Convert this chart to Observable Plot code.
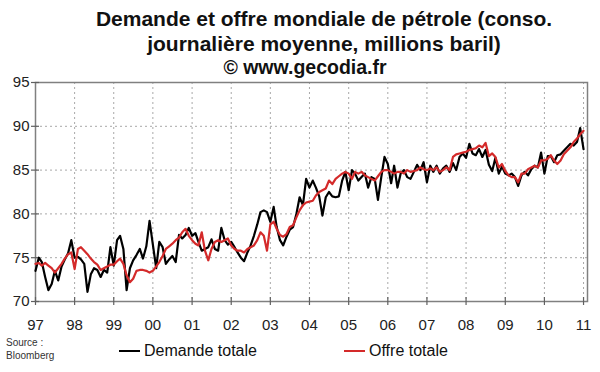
<!DOCTYPE html>
<html><head><meta charset="utf-8">
<script src="https://cdn.jsdelivr.net/npm/d3@7"></script>
<script src="https://cdn.jsdelivr.net/npm/@observablehq/plot@0.6"></script>
<style>
body{margin:0;background:#fff;font-family:"Liberation Sans",Arial,sans-serif;}
#wrap{position:relative;width:600px;height:372px;overflow:hidden;background:#fff;}
.t{position:absolute;left:48px;width:552px;text-align:center;font-weight:bold;color:#111;white-space:nowrap;line-height:24px;}
#chart{position:absolute;left:0;top:62px;}
#chart svg{overflow:visible;}
.src{position:absolute;left:6px;top:336px;font-size:10px;line-height:13px;color:#333;}
.sw{position:absolute;height:2px;}
.lt{position:absolute;font-size:16px;color:#111;white-space:nowrap;line-height:18px;}
</style></head>
<body>
<div id="wrap">
  <div class="t" style="top:7px;font-size:21px;">Demande et offre mondiale de pétrole (conso.</div>
  <div class="t" style="top:32px;font-size:21px;">journalière moyenne, millions baril)</div>
  <div class="t" style="top:55px;left:10px;width:590px;font-size:19.5px;">© www.gecodia.fr</div>
  <div id="chart"></div>
  <div class="src">Source :<br>Bloomberg</div>
  <div class="sw" style="left:119px;top:350px;width:21px;background:#000;"></div>
  <div class="lt" style="left:144px;top:342px;">Demande totale</div>
  <div class="sw" style="left:344px;top:350px;width:21px;background:#d42a2a;"></div>
  <div class="lt" style="left:369px;top:342px;">Offre totale</div>
</div>
<script>
// Monthly values, Jan 1997 .. Jan 2011 (millions of barrels per day)
const demande = [
  73.5, 75.0, 74.5, 72.8, 71.3, 72.0, 73.5, 72.4, 74.0, 74.8, 75.5, 77.0, // 1997
  75.0, 75.1, 74.8, 74.3, 71.1, 73.1, 73.8, 73.6, 72.8, 73.6, 73.3, 76.2, // 1998
  74.1, 77.0, 77.5, 76.0, 71.3, 73.8, 74.7, 75.3, 76.0, 74.9, 76.3, 79.2, // 1999
  76.5, 73.8, 76.8, 76.2, 74.3, 74.8, 75.2, 74.5, 77.6, 77.2, 77.6, 78.4, // 2000
  77.5, 77.8, 76.8, 75.8, 76.0, 76.2, 77.1, 76.0, 75.8, 78.4, 77.0, 76.5, // 2001
  76.8, 76.2, 75.6, 75.0, 74.6, 75.6, 76.4, 77.5, 78.8, 80.2, 80.4, 80.2, // 2002
  79.1, 80.8, 78.5, 77.0, 76.4, 77.4, 78.2, 78.5, 80.0, 81.9, 81.0, 84.0, // 2003
  83.0, 83.8, 83.0, 82.0, 79.8, 81.9, 82.5, 82.0, 81.9, 82.0, 83.8, 84.8, // 2004
  82.7, 85.0, 84.6, 83.8, 84.2, 84.6, 83.0, 84.2, 84.0, 81.6, 84.2, 86.5, // 2005
  85.7, 83.5, 85.5, 83.0, 84.6, 85.0, 84.2, 84.0, 84.8, 85.6, 85.0, 85.9, // 2006
  83.6, 85.5, 84.8, 85.5, 84.6, 85.2, 85.5, 84.8, 85.8, 85.0, 86.5, 86.9, // 2007
  86.4, 88.0, 86.9, 86.7, 87.4, 86.5, 87.3, 85.6, 84.9, 86.4, 84.6, 85.4, // 2008
  84.6, 84.4, 84.6, 84.2, 83.2, 84.4, 84.8, 84.4, 85.1, 85.5, 85.3, 87.0, // 2009
  84.6, 86.6, 86.6, 85.9, 86.7, 86.8, 87.2, 87.6, 88.0, 87.8, 88.2, 89.8, // 2010
  87.4                                                                     // 2011
];
const offre = [
  74.3, 74.4, 74.1, 74.4, 74.1, 73.8, 73.3, 73.8, 74.3, 74.9, 75.4, 75.6, // 1997
  73.7, 76.0, 76.2, 75.8, 75.4, 74.9, 74.5, 74.2, 73.6, 73.8, 74.0, 74.2, // 1998
  74.2, 74.6, 74.9, 74.3, 73.0, 72.2, 72.6, 73.5, 73.6, 73.6, 73.5, 73.3, // 1999
  73.5, 74.0, 74.5, 75.2, 76.0, 76.3, 76.6, 77.0, 77.3, 77.9, 78.3, 77.5, // 2000
  77.0, 76.6, 76.4, 77.9, 75.8, 74.7, 76.0, 76.8, 77.0, 76.8, 77.0, 77.2, // 2001
  76.4, 76.0, 75.8, 75.8, 75.6, 76.0, 76.2, 76.4, 77.0, 77.9, 77.5, 75.8, // 2002
  78.8, 79.1, 78.3, 77.6, 77.4, 77.7, 78.5, 78.7, 79.6, 80.4, 81.0, 81.3, // 2003
  81.4, 81.5, 82.1, 82.5, 82.7, 82.9, 83.8, 83.4, 84.0, 84.3, 84.6, 84.8, // 2004
  84.6, 84.0, 84.8, 84.6, 84.8, 84.4, 84.2, 84.0, 83.8, 84.3, 84.8, 85.0, // 2005
  85.0, 84.8, 84.6, 84.8, 84.8, 84.6, 85.0, 84.8, 84.9, 85.0, 85.3, 85.1, // 2006
  85.0, 85.2, 85.0, 85.3, 84.8, 85.0, 85.3, 85.0, 86.5, 86.8, 86.9, 87.0, // 2007
  87.1, 87.3, 87.4, 87.5, 87.8, 87.6, 88.1, 86.6, 86.9, 86.5, 85.3, 85.7, // 2008
  84.9, 84.4, 84.2, 84.2, 83.6, 84.6, 84.6, 85.1, 85.3, 85.5, 85.3, 86.1, // 2009
  86.1, 86.3, 86.7, 86.1, 85.7, 86.1, 86.8, 87.2, 87.6, 88.2, 88.6, 89.1, // 2010
  89.5                                                                     // 2011
];
const startYear = 1997;
const tickYears = [1997,1998,1999,2000,2001,2002,2003,2004,2005,2006,2007,2008,2009,2010,2011];
const tickLabels = ["97","98","99","00","01","02","03","04","05","06","07","08","09","10","11"];
const yTicks = [70, 75, 80, 85, 90, 95];

const months = demande.map((_, i) => new Date(Date.UTC(startYear, i, 1)));
const yearDates = tickYears.map(y => new Date(Date.UTC(y, 0, 1)));
const labelOf = d => tickLabels[tickYears.indexOf(d.getUTCFullYear())];

const W = 600, H = 276, mL = 35, mR = 13, mT = 20, mB = 37;
const pw = W - mL - mR, ph = H - mT - mB;

const chart = Plot.plot({
  width: W, height: H,
  marginLeft: mL, marginRight: mR, marginTop: mT, marginBottom: mB,
  style: {fontFamily: "Liberation Sans, Arial, sans-serif", fontSize: "15px", color: "#222", background: "transparent"},
  x: {type: "utc", domain: [new Date(Date.UTC(1997, 0, 1)), new Date(Date.UTC(2011, 1, 7))]},
  y: {domain: [70, 95]},
  marks: [
    Plot.gridY(yTicks.slice(1, -1), {stroke: "#a8a8a8", strokeOpacity: 1, strokeDasharray: "2,3"}),
    Plot.gridX(yearDates.slice(1), {stroke: "#a8a8a8", strokeOpacity: 1, strokeDasharray: "2,3"}),
    Plot.frame({stroke: "#808080", strokeWidth: 1.5}),
    Plot.tickX(yearDates, {x: d => d, stroke: "#606060", strokeWidth: 1.2, insetTop: ph - 4, insetBottom: -4}),
    Plot.tickY(yTicks, {y: d => d, stroke: "#606060", strokeWidth: 1.2, insetRight: pw - 4, insetLeft: -4}),
    Plot.axisX(yearDates, {tickSize: 0, tickPadding: 18, fontSize: 15, tickFormat: labelOf}),
    Plot.axisY(yTicks, {tickSize: 0, tickPadding: 6, fontSize: 15}),
    Plot.lineY(demande, {x: (d, i) => months[i], y: d => d, stroke: "#000", strokeWidth: 2.2}),
    Plot.lineY(offre, {x: (d, i) => months[i], y: d => d, stroke: "#d42a2a", strokeWidth: 2.2})
  ]
});
document.getElementById("chart").appendChild(chart);
</script>
</body></html>
